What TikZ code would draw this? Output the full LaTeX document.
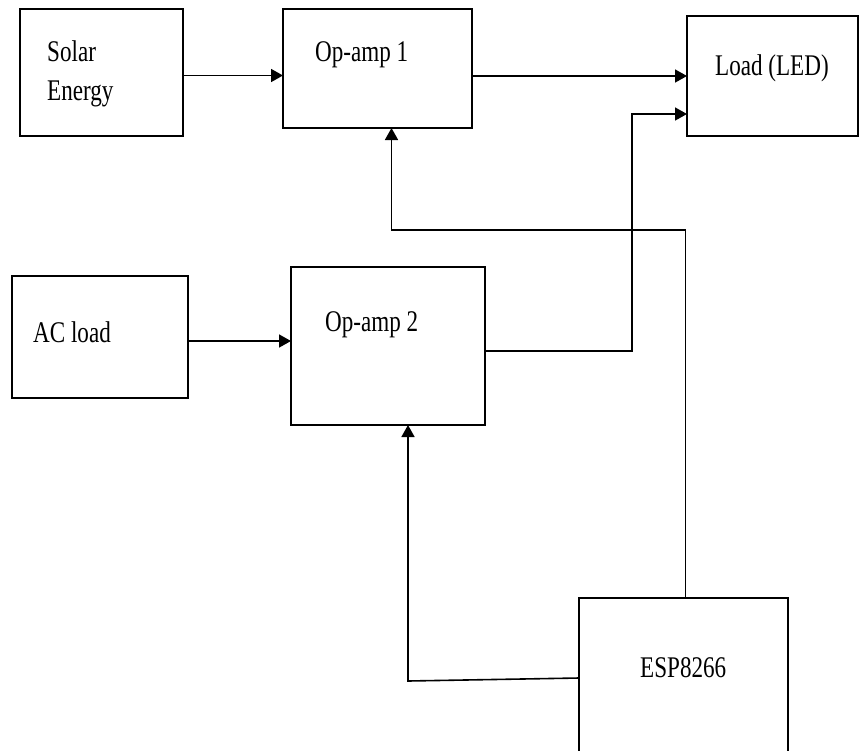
\documentclass[tikz,border=0pt]{standalone}
\usepackage{fontspec}
\setmainfont[FakeStretch=0.77]{Liberation Serif}
\usetikzlibrary{arrows.meta}

\begin{document}
\begin{tikzpicture}[x=1pt, y=-1pt]

% =======================================================
% Styles
% =======================================================
\tikzset{
  block/.style = {draw, rectangle, line width=1.6pt, inner sep=0, outer sep=0, anchor=north west},
  lbl/.style   = {anchor=base west, inner sep=0, font=\fontsize{30}{36}\selectfont},
  flow/.style  = {line width=1.6pt, -{Triangle[length=12pt, width=13pt]}},
}

% =======================================================
% Page frame
% =======================================================
\useasboundingbox (0,0) rectangle (859,750);
\clip (0,0) rectangle (859,750);

% =======================================================
% Blocks
% =======================================================
\node[block, minimum width=163, minimum height=127] (solar)  at (20,9)   {};
\node[block, minimum width=189, minimum height=119] (opamp1) at (283,9)  {};
\node[block, minimum width=171, minimum height=120] (load)   at (687,16) {};
\node[block, minimum width=176, minimum height=122] (acload) at (12,276) {};
\node[block, minimum width=194, minimum height=158] (opamp2) at (291,267){};
\node[block, minimum width=209, minimum height=160] (esp)    at (579,598){};

% Labels
\node[lbl] (solartxt)  at (47,61)   {Solar};
\node[lbl] (energytxt) at (47,100)  {Energy};
\node[lbl] (op1txt)    at (315,61)  {Op-amp 1};
\node[lbl] (loadtxt)   at (715,75)  {Load (LED)};
\node[lbl] (actxt)     at (33,342)  {AC load};
\node[lbl] (op2txt)    at (325,331) {Op-amp 2};
\node[lbl] (esptxt)    at (640,677) {ESP8266};

% =======================================================
% Connections
% =======================================================

% inputs to the op-amps
\draw[flow] ([yshift=-3pt]solar.east) coordinate (sOut) -- (opamp1.west |- sOut);
\draw[flow] ([yshift=-4pt]acload.east) coordinate (aOut) -- (opamp2.west |- aOut);

% op-amps to the load
\draw[flow] (opamp1.east |- load.west) -- (load.west);
\draw[flow] ([yshift=-5pt]opamp2.east) -- ++(147,0) |- ([yshift=-38pt]load.west);

% ESP8266 control lines
\draw[flow] ([xshift=2pt]esp.north) -- ++(0,-368) -| ([xshift=14pt]opamp1.south);
\draw[flow] (esp.west) -- ++(-171,3) -- ([xshift=20pt]opamp2.south);

\end{tikzpicture}
\end{document}
